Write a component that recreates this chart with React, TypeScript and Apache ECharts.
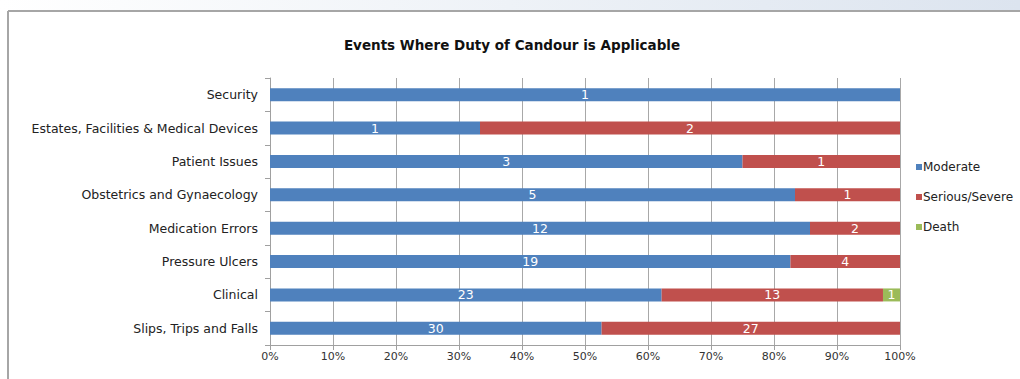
import React, { useEffect, useRef } from "react";
import * as echarts from "echarts";

// Categories listed top to bottom
const categories = [
  "Security",
  "Estates, Facilities & Medical Devices",
  "Patient Issues",
  "Obstetrics and Gynaecology",
  "Medication Errors",
  "Pressure Ulcers",
  "Clinical",
  "Slips, Trips and Falls",
];

const moderate = [1, 1, 3, 5, 12, 19, 23, 30];
const serious = [0, 2, 1, 1, 2, 4, 13, 27];
const death = [0, 0, 0, 0, 0, 0, 1, 0];

const seriesNames = ["Moderate", "Serious/Severe", "Death"];
const seriesColors = ["#4F81BD", "#C0504D", "#9BBB59"];
const xTickLabels = ["0%", "10%", "20%", "30%", "40%", "50%", "60%", "70%", "80%", "90%", "100%"];

const FONT = "'DejaVu Sans', 'Liberation Sans', Arial, sans-serif";

export default function App() {
  const ref = useRef<HTMLDivElement>(null);

  useEffect(() => {
    if (!ref.current) return;
    const chart = echarts.init(ref.current, undefined, { renderer: "svg" });
    const totals = categories.map((_, i) => moderate[i] + serious[i] + death[i]);
    const counts = [moderate, serious, death];

    const series = counts.map((arr, s) => ({
      name: seriesNames[s],
      type: "bar" as const,
      stack: "total",
      barWidth: 13,
      itemStyle: { color: seriesColors[s] },
      data: arr.map((v, i) => ({ value: (v / totals[i]) * 100, count: v })),
      label: {
        show: true,
        position: "inside" as const,
        color: "#ffffff",
        fontSize: 12.5,
        fontFamily: FONT,
        formatter: (p: any) => (p.data.count ? String(p.data.count) : ""),
      },
    }));

    chart.setOption({
      animation: false,
      backgroundColor: "#ffffff",
      title: {
        text: "Events Where Duty of Candour is Applicable",
        left: 507,
        top: 33,
        textAlign: "center",
        textStyle: { fontSize: 13.5, fontWeight: "bold", color: "#111", fontFamily: FONT },
      },
      graphic: [
        {
          type: "rect",
          shape: { x: 0, y: 0, width: 1020, height: 10 },
          style: {
            fill: new echarts.graphic.LinearGradient(0, 0, 1, 0, [
              { offset: 0, color: "#ffffff" },
              { offset: 0.5, color: "#eef2f7" },
              { offset: 1, color: "#dce4ef" },
            ]),
          },
          silent: true,
        },
        {
          type: "line",
          shape: { x1: 8, y1: 11, x2: 1020, y2: 11 },
          style: { stroke: "#a6a6a6", lineWidth: 2 },
          silent: true,
        },
        {
          type: "line",
          shape: { x1: 8, y1: 11, x2: 8, y2: 379 },
          style: { stroke: "#a6a6a6", lineWidth: 2 },
          silent: true,
        },
      ],
      legend: {
        orient: "vertical",
        left: 911,
        top: 156,
        itemWidth: 6,
        itemHeight: 6,
        itemGap: 18,
        icon: "rect",
        textStyle: { fontSize: 12, color: "#222", fontFamily: FONT, padding: [0, 0, 0, -4] },
        data: seriesNames,
      },
      grid: { left: 270, right: 120, top: 78, bottom: 34, containLabel: false },
      xAxis: {
        type: "value",
        min: 0,
        max: 100,
        interval: 10,
        axisLine: { show: true, lineStyle: { color: "#a0a0a0" } },
        axisTick: { show: true, length: 5, lineStyle: { color: "#a0a0a0" } },
        splitLine: { show: true, lineStyle: { color: "#a8a8a8", width: 1 } },
        axisLabel: {
          fontSize: 11,
          color: "#333",
          fontFamily: FONT,
          margin: 6,
          formatter: (v: number) => xTickLabels[Math.round(v / 10)],
        },
      },
      yAxis: {
        type: "category",
        inverse: true,
        data: categories,
        axisLine: { show: true, lineStyle: { color: "#a0a0a0" } },
        axisTick: { show: true, length: 5, lineStyle: { color: "#a0a0a0" } },
        axisLabel: { fontSize: 12.5, color: "#222", fontFamily: FONT, margin: 12 },
      },
      series,
    });
    return () => chart.dispose();
  }, []);

  return (
    <div
      ref={ref}
      style={{ position: "fixed", left: 0, top: 0, width: 1020, height: 379 }}
    />
  );
}
